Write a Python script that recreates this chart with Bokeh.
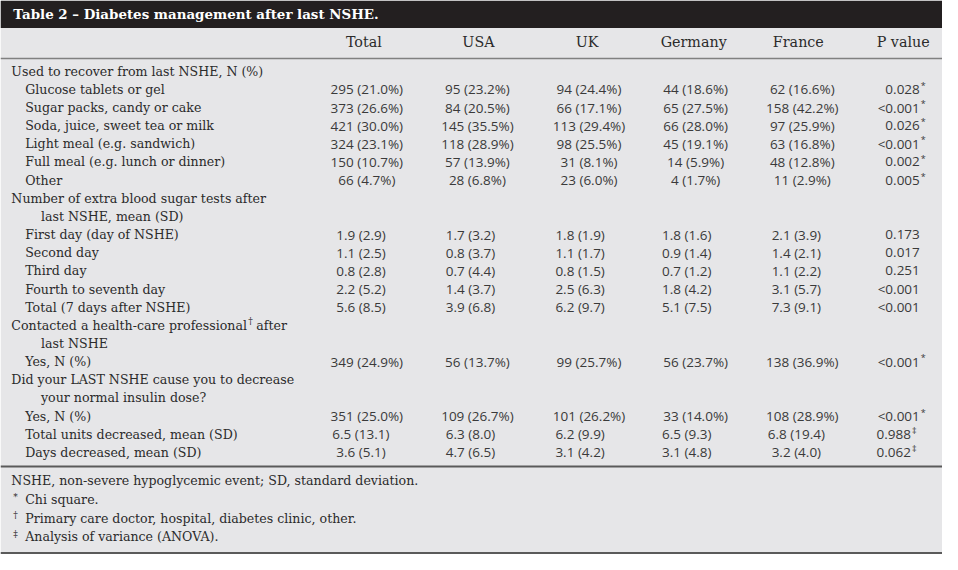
from bokeh.plotting import figure
from bokeh.models import ColumnDataSource, Range1d
from bokeh.embed import file_html
from bokeh.resources import INLINE
from bokeh.core.properties import value

# ---------------- data ----------------
title = "Table 2 \u2013 Diabetes management after last NSHE."
columns = ["Total", "USA", "UK", "Germany", "France", "P value"]

row_labels = [
    "Used to recover from last NSHE, N (%)",
    "Glucose tablets or gel",
    "Sugar packs, candy or cake",
    "Soda, juice, sweet tea or milk",
    "Light meal (e.g. sandwich)",
    "Full meal (e.g. lunch or dinner)",
    "Other",
    "Number of extra blood sugar tests after",
    "last NSHE, mean (SD)",
    "First day (day of NSHE)",
    "Second day",
    "Third day",
    "Fourth to seventh day",
    "Total (7 days after NSHE)",
    "Contacted a health-care professional",
    "last NSHE",
    "Yes, N (%)",
    "Did your LAST NSHE cause you to decrease",
    "your normal insulin dose?",
    "Yes, N (%)",
    "Total units decreased, mean (SD)",
    "Days decreased, mean (SD)",
]
# 0 = section heading, 1 = item, 2 = wrapped continuation
row_levels = [0, 1, 1, 1, 1, 1, 1, 0, 2, 1, 1, 1, 1, 1, 0, 2, 1, 0, 2, 1, 1, 1]
# "n" = N (%) row, "m" = mean (SD) row, "" = no values
row_kinds = ["", "n", "n", "n", "n", "n", "n", "", "", "m", "m", "m", "m", "m",
             "", "", "n", "", "", "n", "m", "m"]

total = ["", "295 (21.0%)", "373 (26.6%)", "421 (30.0%)", "324 (23.1%)", "150 (10.7%)", "66 (4.7%)",
         "", "", "1.9 (2.9)", "1.1 (2.5)", "0.8 (2.8)", "2.2 (5.2)", "5.6 (8.5)",
         "", "", "349 (24.9%)", "", "", "351 (25.0%)", "6.5 (13.1)", "3.6 (5.1)"]
usa = ["", "95 (23.2%)", "84 (20.5%)", "145 (35.5%)", "118 (28.9%)", "57 (13.9%)", "28 (6.8%)",
       "", "", "1.7 (3.2)", "0.8 (3.7)", "0.7 (4.4)", "1.4 (3.7)", "3.9 (6.8)",
       "", "", "56 (13.7%)", "", "", "109 (26.7%)", "6.3 (8.0)", "4.7 (6.5)"]
uk = ["", "94 (24.4%)", "66 (17.1%)", "113 (29.4%)", "98 (25.5%)", "31 (8.1%)", "23 (6.0%)",
      "", "", "1.8 (1.9)", "1.1 (1.7)", "0.8 (1.5)", "2.5 (6.3)", "6.2 (9.7)",
      "", "", "99 (25.7%)", "", "", "101 (26.2%)", "6.2 (9.9)", "3.1 (4.2)"]
germany = ["", "44 (18.6%)", "65 (27.5%)", "66 (28.0%)", "45 (19.1%)", "14 (5.9%)", "4 (1.7%)",
           "", "", "1.8 (1.6)", "0.9 (1.4)", "0.7 (1.2)", "1.8 (4.2)", "5.1 (7.5)",
           "", "", "56 (23.7%)", "", "", "33 (14.0%)", "6.5 (9.3)", "3.1 (4.8)"]
france = ["", "62 (16.6%)", "158 (42.2%)", "97 (25.9%)", "63 (16.8%)", "48 (12.8%)", "11 (2.9%)",
          "", "", "2.1 (3.9)", "1.4 (2.1)", "1.1 (2.2)", "3.1 (5.7)", "7.3 (9.1)",
          "", "", "138 (36.9%)", "", "", "108 (28.9%)", "6.8 (19.4)", "3.2 (4.0)"]
p_values = ["", "0.028", "<0.001", "0.026", "<0.001", "0.002", "0.005",
            "", "", "0.173", "0.017", "0.251", "<0.001", "<0.001",
            "", "", "<0.001", "", "", "<0.001", "0.988", "0.062"]
p_marks = ["", "*", "*", "*", "*", "*", "*",
           "", "", "", "", "", "", "",
           "", "", "*", "", "", "*", "\u2021", "\u2021"]

footnote_marks = ["", "*", "\u2020", "\u2021"]
footnotes = [
    "NSHE, non-severe hypoglycemic event; SD, standard deviation.",
    "Chi square.",
    "Primary care doctor, hospital, diabetes clinic, other.",
    "Analysis of variance (ANOVA).",
]

# ---------------- layout / style ----------------
BG = "#e6e6e8"
BAR = "#231f20"
TXT = "#2b2b2b"
NUM = "#3a3a3a"
SERIF = "DejaVu Serif"
SANS = "Open Sans"
LAB_FS = "12.6px"
NUM_FS = "13.5px"

ROW0, PITCH = 75.0, 18.48
row_y = [ROW0 + PITCH * i for i in range(len(row_labels))]
indent = {0: 13, 1: 27, 2: 43}
n_centers = [373, 485, 598, 706, 814]
m_centers = [367, 478, 589, 697, 808]
head_centers = [370, 486, 596, 704, 810]
P_RIGHT = 933
FOOT0, FPITCH = 492.0, 19.0

p = figure(width=942, height=554, x_range=Range1d(2, 956), y_range=Range1d(567, 3),
           output_backend="svg", toolbar_location=None, min_border=0,
           x_axis_location=None, y_axis_location=None)
p.xgrid.visible = False
p.ygrid.visible = False
p.outline_line_color = None
p.background_fill_color = "white"
p.border_fill_color = "white"

# table background and title bar
p.quad(left=[2], right=[956], top=[3], bottom=[567], fill_color=BG, line_color=None)
p.quad(left=[2], right=[956], top=[3], bottom=[31], fill_color=BAR, line_color=None)
p.segment(x0=[2], x1=[956], y0=[62], y1=[62], line_color="#808080", line_width=1.5)
p.segment(x0=[2, 2], x1=[956, 956], y0=[477.5, 565.5], y1=[477.5, 565.5], line_color="#5a5a5a", line_width=2)

# title
p.text(x=[15], y=[17], text=[title], text_font=value(SERIF), text_font_style="bold",
       text_font_size="13.4px", text_color="white", text_baseline="middle", text_align="left")

# column headers
p.text(x=head_centers, y=[45] * 5, text=columns[:5], text_font=value(SERIF), text_font_size="14.3px",
       text_color=TXT, text_baseline="middle", text_align="center")
p.text(x=[943], y=[45], text=[columns[5]], text_font=value(SERIF), text_font_size="14.3px",
       text_color=TXT, text_baseline="middle", text_align="right")

# row labels
lab_src = ColumnDataSource(dict(x=[indent[l] for l in row_levels], y=row_y, t=row_labels))
p.text(x="x", y="y", text="t", source=lab_src, text_font=value(SERIF), text_font_size=LAB_FS,
       text_color=TXT, text_baseline="middle", text_align="left")
# dagger + continuation on the "Contacted" heading
ci = row_labels.index("Contacted a health-care professional")
p.text(x=[253], y=[row_y[ci] - 4], text=["\u2020"], text_font=value(SERIF), text_font_size="9px",
       text_color=TXT, text_baseline="middle", text_align="left")
p.text(x=[261], y=[row_y[ci]], text=["after"], text_font=value(SERIF), text_font_size=LAB_FS,
       text_color=TXT, text_baseline="middle", text_align="left")

# values
xs, ys, ts = [], [], []
for ci_, col in enumerate([total, usa, uk, germany, france]):
    for ri, v in enumerate(col):
        if not v:
            continue
        xs.append(n_centers[ci_] if row_kinds[ri] == "n" else m_centers[ci_])
        ys.append(row_y[ri])
        ts.append(v)
val_src = ColumnDataSource(dict(x=xs, y=ys, t=ts))
p.text(x="x", y="y", text="t", source=val_src, text_font=value(SANS), text_font_size=NUM_FS,
       text_color=NUM, text_baseline="middle", text_align="center")

# p values
px, py, pt, mx, my, mt = [], [], [], [], [], []
for ri, v in enumerate(p_values):
    if not v:
        continue
    m = p_marks[ri]
    right = P_RIGHT - (9 if m == "\u2021" else 0)
    px.append(right); py.append(row_y[ri]); pt.append(v)
    if m:
        mx.append(right + 1); my.append(row_y[ri] - 4); mt.append(m)
p.text(x=px, y=py, text=pt, text_font=value(SANS), text_font_size=NUM_FS,
       text_color=NUM, text_baseline="middle", text_align="right")
p.text(x=mx, y=my, text=mt, text_font=value(SANS), text_font_size="9px",
       text_color=NUM, text_baseline="middle", text_align="left")

# footnotes
fy = [FOOT0 + FPITCH * i for i in range(len(footnotes))]
fx = [13 if not m else 27 for m in footnote_marks]
p.text(x=fx, y=fy, text=footnotes, text_font=value(SERIF), text_font_size=LAB_FS,
       text_color=TXT, text_baseline="middle", text_align="left")
p.text(x=[15] * 3, y=[f - 3 for f in fy[1:]], text=footnote_marks[1:], text_font=value(SERIF),
       text_font_size="9px", text_color=TXT, text_baseline="middle", text_align="left")

open("out.html", "w").write(file_html(p, INLINE))
